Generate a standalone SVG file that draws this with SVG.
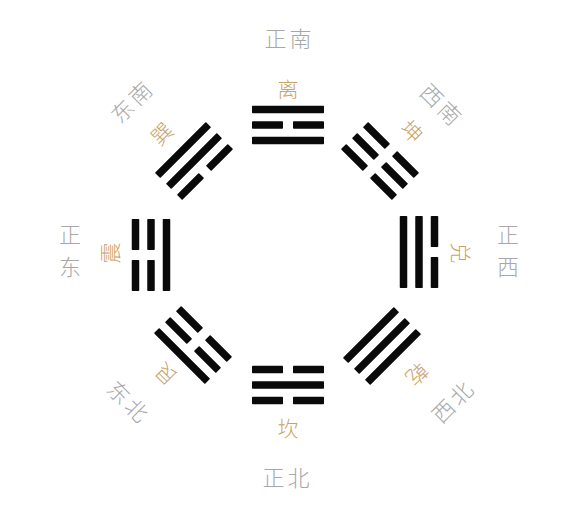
<svg xmlns="http://www.w3.org/2000/svg" xmlns:xlink="http://www.w3.org/1999/xlink" width="579" height="519" viewBox="0 0 579 519">
  <style>
    .bar { fill: #0a0a0a; }
    .name { font-family: "Noto Sans CJK SC", "Noto Sans", sans-serif; font-size: 21px; font-weight: 300; fill: #c9a265; text-anchor: middle; dominant-baseline: central; }
    .dir { font-family: "Noto Sans CJK SC", "Noto Sans", sans-serif; font-size: 22px; font-weight: 300; fill: #a8a8a8; text-anchor: middle; dominant-baseline: central; }
    .dir2 { letter-spacing: 3px; }
  </style>
  <defs>
    <rect id="yang" class="bar" x="-36" y="-3.75" width="72" height="7.5" rx="0.8"/>
    <g id="yin">
      <rect class="bar" x="-36" y="-3.75" width="31" height="7.5" rx="0.8"/>
      <rect class="bar" x="5" y="-3.75" width="31" height="7.5" rx="0.8"/>
    </g>
  </defs>
  <rect x="0" y="0" width="579" height="519" fill="#ffffff"/>

  <!-- 离 (top, south) -->
  <g id="li">
    <g transform="translate(288,125)">
      <use xlink:href="#yang" y="-15.5"/>
      <use xlink:href="#yin" y="0"/>
      <use xlink:href="#yang" y="15.5"/>
    </g>
    <text class="name" x="288" y="88">离</text>
    <text class="dir dir2" x="289.5" y="37">正南</text>
  </g>

  <!-- 坤 (top right, southwest) -->
  <g id="kun">
    <g transform="translate(380,161) rotate(45)">
      <use xlink:href="#yin" y="-15.5"/>
      <use xlink:href="#yin" y="0"/>
      <use xlink:href="#yin" y="15.5"/>
    </g>
    <text class="name" transform="translate(412.5,130.5) rotate(45)">坤</text>
    <text class="dir dir2" transform="translate(442,103) rotate(45)" x="1.5">西南</text>
  </g>

  <!-- 兑 (right, west) -->
  <g id="dui">
    <g transform="translate(419,252) rotate(90)">
      <use xlink:href="#yin" y="-15.5"/>
      <use xlink:href="#yang" y="0"/>
      <use xlink:href="#yang" y="15.5"/>
    </g>
    <text class="name" transform="translate(462,253) rotate(90)">兑</text>
    <text class="dir" x="508" y="233">正</text>
    <text class="dir" x="508" y="265">西</text>
  </g>

  <!-- 乾 (bottom right, northwest) -->
  <g id="qian">
    <g transform="translate(382,346) rotate(135)">
      <use xlink:href="#yang" y="-15.5"/>
      <use xlink:href="#yang" y="0"/>
      <use xlink:href="#yang" y="15.5"/>
    </g>
    <text class="name" transform="translate(418,375) rotate(135)">乾</text>
    <text class="dir dir2" transform="translate(451,401) rotate(-45)" x="1.5">西北</text>
  </g>

  <!-- 坎 (bottom, north) -->
  <g id="kan">
    <g transform="translate(288,385) rotate(180)">
      <use xlink:href="#yin" y="-15.5"/>
      <use xlink:href="#yang" y="0"/>
      <use xlink:href="#yin" y="15.5"/>
    </g>
    <text class="name" x="288" y="427">坎</text>
    <text class="dir dir2" x="287.5" y="476">正北</text>
  </g>

  <!-- 艮 (bottom left, northeast) -->
  <g id="gen">
    <g transform="translate(193,345) rotate(225)">
      <use xlink:href="#yang" y="-15.5"/>
      <use xlink:href="#yin" y="0"/>
      <use xlink:href="#yin" y="15.5"/>
    </g>
    <text class="name" transform="translate(165,375) rotate(225)">艮</text>
    <text class="dir dir2" transform="translate(129,400) rotate(45)" x="1.5">东北</text>
  </g>

  <!-- 震 (left, east) -->
  <g id="zhen">
    <g transform="translate(151,255) rotate(270)">
      <use xlink:href="#yin" y="-15.5"/>
      <use xlink:href="#yin" y="0"/>
      <use xlink:href="#yang" y="15.5"/>
    </g>
    <text class="name" transform="translate(109,253) rotate(-90)">震</text>
    <text class="dir" x="70" y="233">正</text>
    <text class="dir" x="70" y="265">东</text>
  </g>

  <!-- 巽 (top left, southeast) -->
  <g id="xun">
    <g transform="translate(194,161) rotate(315)">
      <use xlink:href="#yang" y="-15.5"/>
      <use xlink:href="#yang" y="0"/>
      <use xlink:href="#yin" y="15.5"/>
    </g>
    <text class="name" transform="translate(161,133) rotate(-45)">巽</text>
    <text class="dir dir2" transform="translate(130,101) rotate(-45)" x="1.5">东南</text>
  </g>
</svg>
